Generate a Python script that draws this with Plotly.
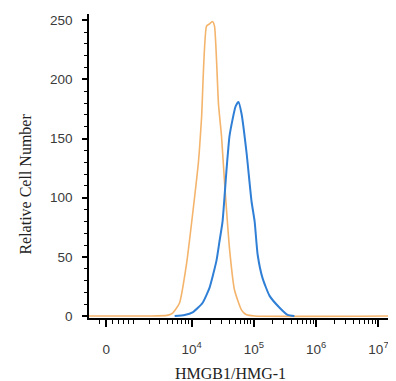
import math
import plotly.graph_objects as go

# ---- data (fluorescence intensity vs. cell count) ----
orange_intensity = [-600, 2000, 4000, 4950, 6400, 8300, 10400, 12900, 14500, 17400, 19500,
                    21700, 23400, 27100, 30300, 33900, 40700, 49000, 63500, 76400, 102000, 2.0e7]
orange_count = [0, 0, 0.5, 2.5, 11, 44, 86, 130, 168, 245, 247,
                249, 245, 179, 152, 113, 57, 22, 5, 1, 0, 0]

blue_intensity = [5330, 7730, 10400, 15000, 19500, 25200, 28100, 31500, 36500, 40700, 45500,
                  50800, 56800, 63500, 76400, 91800, 103000, 115000, 138000, 179000, 259000,
                  348000, 447000]
blue_count = [0, 0.8, 3, 11, 24, 47, 63, 80, 124, 152, 166,
              177, 181, 171, 138, 97, 80, 52, 32, 17, 7, 1, 0]

x_tick_values = [0, 1e4, 1e5, 1e6, 1e7]
x_tick_labels = ["0", "10<sup>4</sup>", "10<sup>5</sup>", "10<sup>6</sup>", "10<sup>7</sup>"]
x_minor_values = ([-200, 200, 400, 600, 800] + [k * 1000 for k in range(1, 10)]
                  + [k * 10 ** e for e in (4, 5, 6) for k in range(2, 10)])
y_tick_values = [0, 50, 100, 150, 200, 250]
y_minor_values = [v for v in range(10, 256, 10) if v % 50]

# biexponential-like display transform (linear near zero, log above ~10^3)
W = 427.0
def biex(v):
    return math.log10(W) + math.asinh(v / (2 * W)) / math.log(10)

fig = go.Figure()
fig.add_trace(go.Scatter(
    x=[biex(v) for v in orange_intensity], y=orange_count, mode="lines",
    line=dict(color="#F4B46C", width=1.6, shape="spline", smoothing=0.5),
    hoverinfo="skip", showlegend=False))
fig.add_trace(go.Scatter(
    x=[biex(v) for v in blue_intensity], y=blue_count, mode="lines",
    line=dict(color="#2F7FD6", width=2, shape="spline", smoothing=0.5),
    hoverinfo="skip", showlegend=False))

tickfont = dict(family="Liberation Sans, Arial, sans-serif", size=13.5, color="#3a3a3a")
titlefont = dict(family="Liberation Serif, Times New Roman, serif", size=16, color="#222222")

# page body has an 8px default margin, so the figure is 8px smaller and margins compensate
fig.update_layout(
    width=388, height=373,
    margin=dict(l=81, r=4, t=6, b=63, autoexpand=False),
    paper_bgcolor="white", plot_bgcolor="white",
    xaxis=dict(
        range=[2.3555, 7.2167], showgrid=False, zeroline=False, automargin=False,
        showline=True, linecolor="black", linewidth=1.5,
        tickmode="array", tickvals=[biex(v) for v in x_tick_values], ticktext=x_tick_labels,
        ticks="outside", ticklen=7, tickwidth=1.5, tickcolor="black",
        tickfont=tickfont, ticklabelstandoff=11,
        minor=dict(tickmode="array", tickvals=[biex(v) for v in x_minor_values],
                   ticks="outside", ticklen=4, tickwidth=1.2, tickcolor="black", showgrid=False),
    ),
    yaxis=dict(
        range=[-1.7, 255.3], showgrid=False, zeroline=False, automargin=False,
        showline=True, linecolor="black", linewidth=1.5,
        tickmode="array", tickvals=y_tick_values,
        ticks="outside", ticklen=5, tickwidth=1.5, tickcolor="black",
        tickfont=tickfont, ticklabelstandoff=7,
        minor=dict(tickmode="array", tickvals=y_minor_values,
                   ticks="outside", ticklen=3, tickwidth=1.2, tickcolor="black", showgrid=False),
    ),
    annotations=[
        dict(text="HMGB1/HMG-1", xref="paper", yref="paper", x=0.4686, y=-0.181,
             xanchor="center", yanchor="middle", showarrow=False, font=titlefont),
        dict(text="Relative Cell Number", xref="paper", yref="paper", x=-0.211, y=0.439,
             xanchor="center", yanchor="middle", textangle=-90, showarrow=False, font=titlefont),
    ],
)

fig.write_html("out.html")
